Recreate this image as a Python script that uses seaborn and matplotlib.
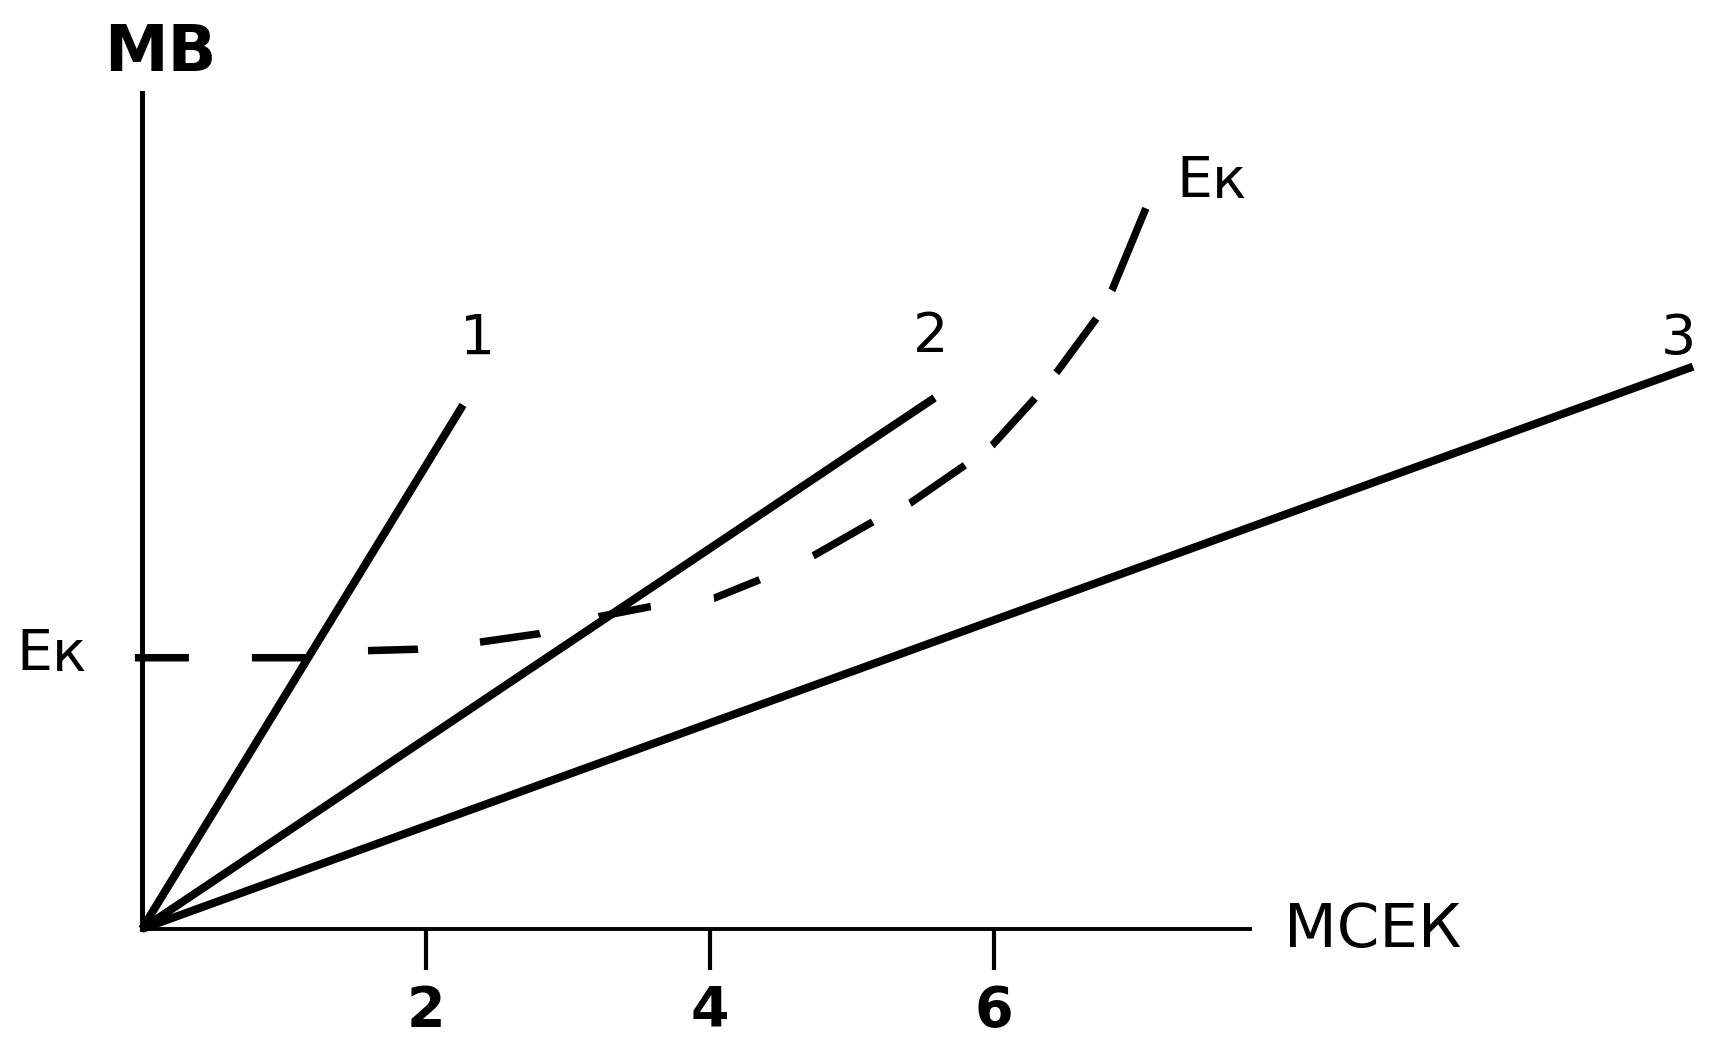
import matplotlib
matplotlib.use("Agg")
import matplotlib.pyplot as plt
import seaborn as sns
import pandas as pd

# straight lines 1, 2, 3 all start at the origin
line_names = ["1", "2", "3"]
line_end_x = [2.26, 5.58, 10.92]
line_end_y = [3.69, 3.74, 3.96]
label_x = [2.36, 5.55, 10.82]
label_y = [4.05, 4.06, 4.05]

# threshold curve Ek (dashed)
ek_x = [-0.05, 1.17, 1.59, 1.94, 2.38, 2.80, 3.22, 3.58, 4.03, 4.35,
        4.73, 5.15, 5.41, 5.80, 5.99, 6.29, 6.44, 6.72, 6.83, 7.07]
ek_y = [1.91, 1.91, 1.96, 1.97, 2.02, 2.08, 2.20, 2.27, 2.33, 2.46,
        2.63, 2.87, 3.00, 3.27, 3.41, 3.74, 3.92, 4.30, 4.50, 5.08]

x_ticks = [2, 4, 6]
x_axis_end = 7.80
y_axis_end = 5.89

sns.set_theme(style="white")
plt.rcParams["font.family"] = ["DejaVu Sans"]
plt.rcParams["text.color"] = "black"
plt.rcParams["xtick.color"] = "black"
plt.rcParams["lines.scale_dashes"] = False

fig = plt.figure(figsize=(17.1, 10.38), dpi=100)
ax = fig.add_axes([0, 0, 1, 1])
ax.set_xlim(-1.0, 11.04)
ax.set_ylim(-0.768, 6.542)

lines = pd.DataFrame({
    "name": [n for n in line_names for _ in range(2)],
    "x": [v for e in line_end_x for v in (0, e)],
    "y": [v for e in line_end_y for v in (0, e)],
})
for name, grp in lines.groupby("name"):
    sns.lineplot(data=grp, x="x", y="y", ax=ax, color="black", lw=5.8,
                 sort=False, estimator=None, solid_capstyle="butt")

# dash / gap lengths in px, converted to points
dash_px = [54, 63, 56, 60.5, 50, 62.4, 60.7, 61.1, 53, 63.6, 49.4, 58.6,
           68.5, 41.6, 66.9, 33.6, 63.7, 33.3, 67.4, 32.2, 88.8, 100]
dash_pt = tuple(d * 0.72 for d in dash_px)
sns.lineplot(x=ek_x, y=ek_y, ax=ax, color="black", lw=5.4, sort=False,
             estimator=None, linestyle=(0, dash_pt))

for t, lx, ly in zip(line_names, label_x, label_y):
    ax.text(lx, ly, t, fontsize=40, ha="center", va="baseline", color="black")

# axes
for side in ["top", "right"]:
    ax.spines[side].set_visible(False)
ax.spines["left"].set_position(("data", 0))
ax.spines["bottom"].set_position(("data", 0))
ax.spines["left"].set_bounds(0, y_axis_end)
ax.spines["bottom"].set_bounds(0, x_axis_end)
ax.spines["left"].set_linewidth(3.6)
ax.spines["bottom"].set_linewidth(2.8)
for side in ["left", "bottom"]:
    ax.spines[side].set_color("black")

ax.set_xticks(x_ticks)
ax.set_xticklabels([str(t) for t in x_ticks], fontsize=40, fontweight="bold")
ax.tick_params(axis="x", direction="out", length=29.5, width=3, pad=10,
               colors="black", bottom=True)
ax.set_yticks([])
ax.grid(False)
ax.set_xlabel("")
ax.set_ylabel("")

ax.text(0.13, 6.04, "МВ", fontsize=46, fontweight="bold", ha="center", va="baseline")
ax.text(8.04, -0.13, "МСЕК", fontsize=44, ha="left", va="baseline")
ax.text(-0.887, 1.82, "Ек", fontsize=41, ha="left", va="baseline")
ax.text(7.28, 5.15, "Ек", fontsize=41, ha="left", va="baseline")

fig.savefig("out.png", dpi=100, facecolor="white")
